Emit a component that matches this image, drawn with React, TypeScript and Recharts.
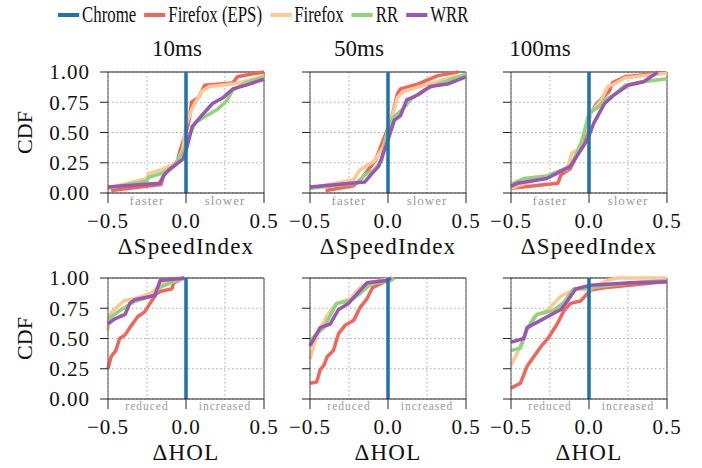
import React from "react";
import { LineChart, Line, XAxis, YAxis, CartesianGrid, ReferenceLine } from "recharts";

type Pt = [number, number];

const seriesNames = ["Chrome", "Firefox (EPS)", "Firefox", "RR", "WRR"];
const seriesColors = ["#1f72ad", "#f2655a", "#fdc796", "#8ed47c", "#9b55b2"];
const delays = ["10ms", "50ms", "100ms"];
const xTicks = [-0.5, -0.25, 0, 0.25, 0.5];
const yTicks = [0, 0.25, 0.5, 0.75, 1];
const speedHints = ["faster", "slower"];
const holHints = ["reduced", "increased"];

// Chrome is the baseline, so its CDF is a step at 0
const chrome: Pt[] = [[0, 0], [0, 1]];

// ΔSpeedIndex, 10ms
const si10Eps: Pt[] = [[-0.48, 0.02], [-0.16, 0.07], [-0.14, 0.16], [-0.06, 0.24], [-0.04, 0.34], [0, 0.5], [0.02, 0.6], [0.035, 0.75], [0.08, 0.79], [0.12, 0.89], [0.3, 0.91], [0.33, 0.96], [0.45, 0.99], [0.5, 1]];
const si10Ff: Pt[] = [[-0.5, 0.04], [-0.25, 0.12], [-0.24, 0.16], [-0.16, 0.19], [-0.06, 0.25], [-0.02, 0.36], [0, 0.56], [0.04, 0.7], [0.1, 0.84], [0.15, 0.88], [0.3, 0.9], [0.4, 0.93], [0.5, 0.97]];
const si10Rr: Pt[] = [[-0.5, 0.04], [-0.25, 0.1], [-0.24, 0.13], [-0.16, 0.16], [-0.08, 0.22], [-0.01, 0.36], [0.02, 0.47], [0.06, 0.58], [0.12, 0.63], [0.2, 0.69], [0.26, 0.76], [0.3, 0.85], [0.38, 0.91], [0.5, 0.96]];
const si10Wrr: Pt[] = [[-0.5, 0.05], [-0.17, 0.08], [-0.14, 0.15], [-0.1, 0.2], [-0.02, 0.28], [0, 0.35], [0.02, 0.45], [0.04, 0.55], [0.06, 0.58], [0.1, 0.64], [0.17, 0.74], [0.24, 0.79], [0.3, 0.86], [0.38, 0.89], [0.5, 0.94]];

// ΔSpeedIndex, 50ms
const si50Eps: Pt[] = [[-0.4, 0.02], [-0.22, 0.06], [-0.17, 0.12], [-0.08, 0.27], [-0.03, 0.44], [0.02, 0.6], [0.06, 0.82], [0.08, 0.86], [0.19, 0.9], [0.32, 0.97], [0.45, 1]];
const si50Ff: Pt[] = [[-0.5, 0.04], [-0.22, 0.11], [-0.18, 0.19], [-0.09, 0.26], [-0.03, 0.38], [0.02, 0.6], [0.06, 0.79], [0.1, 0.84], [0.23, 0.89], [0.4, 0.95], [0.5, 0.98]];
const si50Rr: Pt[] = [[-0.5, 0.04], [-0.2, 0.08], [-0.15, 0.15], [-0.09, 0.19], [-0.04, 0.27], [-0.01, 0.47], [0.03, 0.62], [0.1, 0.7], [0.15, 0.78], [0.23, 0.85], [0.34, 0.91], [0.5, 0.98]];
const si50Wrr: Pt[] = [[-0.5, 0.05], [-0.15, 0.09], [-0.11, 0.15], [-0.06, 0.22], [-0.01, 0.4], [0.04, 0.6], [0.08, 0.64], [0.12, 0.77], [0.19, 0.81], [0.27, 0.88], [0.38, 0.9], [0.5, 0.96]];

// ΔSpeedIndex, 100ms
const si100Eps: Pt[] = [[-0.5, 0.04], [-0.2, 0.08], [-0.18, 0.15], [-0.12, 0.2], [-0.03, 0.44], [0.01, 0.66], [0.05, 0.74], [0.13, 0.84], [0.15, 0.91], [0.23, 0.96], [0.45, 0.99]];
const si100Ff: Pt[] = [[-0.5, 0.04], [-0.27, 0.14], [-0.14, 0.2], [-0.11, 0.33], [-0.07, 0.36], [-0.03, 0.49], [0.01, 0.66], [0.08, 0.77], [0.12, 0.88], [0.16, 0.9], [0.23, 0.95], [0.35, 0.97], [0.5, 0.99]];
const si100Rr: Pt[] = [[-0.5, 0.07], [-0.42, 0.12], [-0.27, 0.14], [-0.12, 0.22], [-0.05, 0.41], [0, 0.66], [0.06, 0.71], [0.1, 0.77], [0.16, 0.81], [0.23, 0.89], [0.34, 0.92], [0.5, 0.945]];
const si100Wrr: Pt[] = [[-0.5, 0.055], [-0.46, 0.08], [-0.27, 0.12], [-0.12, 0.22], [-0.01, 0.44], [0.03, 0.575], [0.1, 0.74], [0.16, 0.81], [0.25, 0.89], [0.35, 0.92], [0.43, 0.99], [0.44, 1]];

// ΔHOL, 10ms
const hol10Eps: Pt[] = [[-0.5, 0.25], [-0.48, 0.35], [-0.45, 0.4], [-0.425, 0.5], [-0.39, 0.53], [-0.36, 0.59], [-0.31, 0.68], [-0.265, 0.72], [-0.23, 0.79], [-0.19, 0.87], [-0.16, 0.89], [-0.09, 0.91], [-0.08, 0.96], [-0.01, 1]];
const hol10Ff: Pt[] = [[-0.5, 0.57], [-0.49, 0.7], [-0.4, 0.81], [-0.3, 0.84], [-0.22, 0.88], [-0.16, 0.95], [-0.04, 0.99], [-0.01, 1]];
const hol10Rr: Pt[] = [[-0.5, 0.66], [-0.425, 0.73], [-0.34, 0.8], [-0.21, 0.855], [-0.17, 0.92], [-0.1, 0.96], [-0.01, 1]];
const hol10Wrr: Pt[] = [[-0.5, 0.62], [-0.46, 0.66], [-0.39, 0.7], [-0.36, 0.79], [-0.33, 0.82], [-0.2, 0.855], [-0.165, 0.98], [-0.12, 0.985], [-0.01, 1]];

// ΔHOL, 50ms
const hol50Eps: Pt[] = [[-0.5, 0.13], [-0.457, 0.14], [-0.435, 0.24], [-0.41, 0.28], [-0.39, 0.35], [-0.35, 0.4], [-0.317, 0.54], [-0.274, 0.61], [-0.22, 0.65], [-0.177, 0.76], [-0.134, 0.83], [-0.1, 0.92], [-0.037, 0.96], [0.027, 1]];
const hol50Ff: Pt[] = [[-0.5, 0.33], [-0.47, 0.47], [-0.435, 0.58], [-0.39, 0.69], [-0.33, 0.79], [-0.24, 0.83], [-0.18, 0.92], [-0.13, 0.96], [0, 0.99], [0.027, 1]];
const hol50Rr: Pt[] = [[-0.5, 0.48], [-0.457, 0.54], [-0.41, 0.59], [-0.33, 0.79], [-0.25, 0.81], [-0.18, 0.87], [-0.11, 0.95], [0.02, 0.98], [0.04, 1]];
const hol50Wrr: Pt[] = [[-0.5, 0.44], [-0.47, 0.51], [-0.435, 0.59], [-0.37, 0.62], [-0.317, 0.74], [-0.253, 0.79], [-0.177, 0.9], [-0.134, 0.96], [-0.01, 0.98], [0.02, 1]];

// ΔHOL, 100ms
const hol100Eps: Pt[] = [[-0.5, 0.09], [-0.44, 0.13], [-0.397, 0.27], [-0.354, 0.35], [-0.31, 0.43], [-0.258, 0.51], [-0.204, 0.62], [-0.16, 0.73], [-0.118, 0.79], [-0.054, 0.81], [0.01, 0.9], [0.097, 0.92], [0.5, 0.97]];
const hol100Ff: Pt[] = [[-0.5, 0.28], [-0.46, 0.38], [-0.397, 0.57], [-0.354, 0.68], [-0.27, 0.73], [-0.18, 0.85], [-0.1, 0.9], [0.01, 0.91], [0.118, 0.98], [0.18, 1], [0.5, 1]];
const hol100Rr: Pt[] = [[-0.5, 0.4], [-0.44, 0.42], [-0.397, 0.58], [-0.333, 0.7], [-0.23, 0.73], [-0.16, 0.8], [-0.1, 0.91], [0.01, 0.92], [0.27, 0.96], [0.5, 0.98]];
const hol100Wrr: Pt[] = [[-0.5, 0.47], [-0.418, 0.5], [-0.397, 0.59], [-0.31, 0.65], [-0.18, 0.74], [-0.15, 0.79], [-0.086, 0.91], [0.01, 0.94], [0.268, 0.96], [0.5, 0.97]];

const rows = [
  { label: "\u0394SpeedIndex", hints: speedHints, panels: [[si10Eps, si10Ff, si10Rr, si10Wrr], [si50Eps, si50Ff, si50Rr, si50Wrr], [si100Eps, si100Ff, si100Rr, si100Wrr]] },
  { label: "\u0394HOL", hints: holHints, panels: [[hol10Eps, hol10Ff, hol10Rr, hol10Wrr], [hol50Eps, hol50Ff, hol50Rr, hol50Wrr], [hol100Eps, hol100Ff, hol100Rr, hol100Wrr]] },
];

const plotLefts = [108, 310, 511];
const plotTops = [72, 278];
const titleCenters = [177, 359, 540];
const PLOT_W = 156;
const PLOT_H = 121;
const AXIS_W = 100;
const TOP_PAD = 16;
const serif = "Liberation Serif";

const toRows = (pts: Pt[]) => pts.map(([x, y]) => ({ x, y }));

const XTick = (props: any) => {
  const { x, y, payload, hints, small } = props;
  const v = payload.value;
  if (Math.abs(v) === 0.25) {
    return (
      <text x={x} y={y + 7} textAnchor="middle" dominantBaseline="central" fontSize={small ? 11.5 : 13} letterSpacing={1} fill="#9a9a9a" fontFamily={serif}>
        {v < 0 ? hints[0] : hints[1]}
      </text>
    );
  }
  const label = v < 0 ? "\u2212" + Math.abs(v).toFixed(1) : v.toFixed(1);
  return (
    <g>
      <line x1={x} x2={x} y1={y} y2={y + 10} stroke="#222" strokeWidth={1} />
      <text x={x} y={y + 28} textAnchor="middle" dominantBaseline="central" fontSize={21} letterSpacing={1} fill="#111" fontFamily={serif}>
        {label}
      </text>
    </g>
  );
};

function Panel({ row, col }: { row: number; col: number }) {
  const r = rows[row];
  const series = [chrome, ...r.panels[col]];
  const order = [1, 2, 3, 4, 0];
  return (
    <div style={{ position: "absolute", left: plotLefts[col] - AXIS_W, top: plotTops[row] - TOP_PAD }}>
      <LineChart width={AXIS_W + PLOT_W + 22} height={TOP_PAD + PLOT_H + 70} margin={{ top: TOP_PAD, right: 22, left: 0, bottom: 0 }}>
        <CartesianGrid stroke="#a8a8a8" strokeDasharray="1.5 2.5" />
        <XAxis
          dataKey="x"
          type="number"
          domain={[-0.5, 0.5]}
          ticks={xTicks}
          interval={0}
          height={70}
          tickSize={0}
          tickMargin={0}
          tickLine={false}
          axisLine={{ stroke: "#222" }}
          tick={(p: any) => <XTick {...p} hints={r.hints} small={row === 1} />}
          label={{ value: r.label, position: "insideTop", offset: 45, style: { fontSize: 23, letterSpacing: 1.2, fontFamily: serif, fill: "#111" } }}
        />
        <YAxis
          dataKey="y"
          type="number"
          domain={[0, 1]}
          ticks={yTicks}
          interval={0}
          width={AXIS_W}
          tickSize={8}
          tickMargin={10}
          tickLine={{ stroke: "#222" }}
          axisLine={{ stroke: "#555" }}
          tickFormatter={(v: number) => (col === 0 ? v.toFixed(2) : "")}
          tick={{ fontSize: 21, fontFamily: serif, fill: "#111", letterSpacing: 1 }}
          label={col === 0 ? { value: "CDF", angle: -90, position: "insideLeft", offset: 16, style: { textAnchor: "middle", fontSize: 22, fontFamily: serif, fill: "#111" } } : undefined}
        />
        <ReferenceLine y={1} stroke="#222" />
        <ReferenceLine x={0.5} stroke="#555" />
        {order.map((i) => (
          <Line
            key={seriesNames[i]}
            data={toRows(series[i])}
            dataKey="y"
            type="linear"
            stroke={seriesColors[i]}
            strokeWidth={3.5}
            strokeLinejoin="round"
            dot={false}
            isAnimationActive={false}
          />
        ))}
      </LineChart>
    </div>
  );
}

export default function App() {
  return (
    <div style={{ position: "absolute", left: 0, top: 0, width: 702, height: 468, background: "#fff", overflow: "hidden" }}>
      <div
        style={{
          position: "absolute",
          left: 58,
          top: 3,
          display: "flex",
          alignItems: "center",
          whiteSpace: "nowrap",
          transform: "scaleX(0.73)",
          transformOrigin: "left center",
          fontFamily: serif,
          fontSize: 23,
          lineHeight: "24px",
          color: "#111",
        }}
      >
        {seriesNames.map((n, i) => (
          <div key={n} style={{ display: "flex", alignItems: "center", marginRight: 11 }}>
            <span style={{ display: "inline-block", width: 29, height: 4, background: seriesColors[i], marginRight: 4 }} />
            <span>{n}</span>
          </div>
        ))}
      </div>
      {delays.map((d, c) => (
        <div
          key={d}
          style={{ position: "absolute", left: titleCenters[c] - 40, width: 80, top: 36, textAlign: "center", fontFamily: serif, fontSize: 23, lineHeight: "26px", color: "#111" }}
        >
          {d}
        </div>
      ))}
      {[0, 1].map((row) => [0, 1, 2].map((col) => <Panel key={`${row}-${col}`} row={row} col={col} />))}
    </div>
  );
}
